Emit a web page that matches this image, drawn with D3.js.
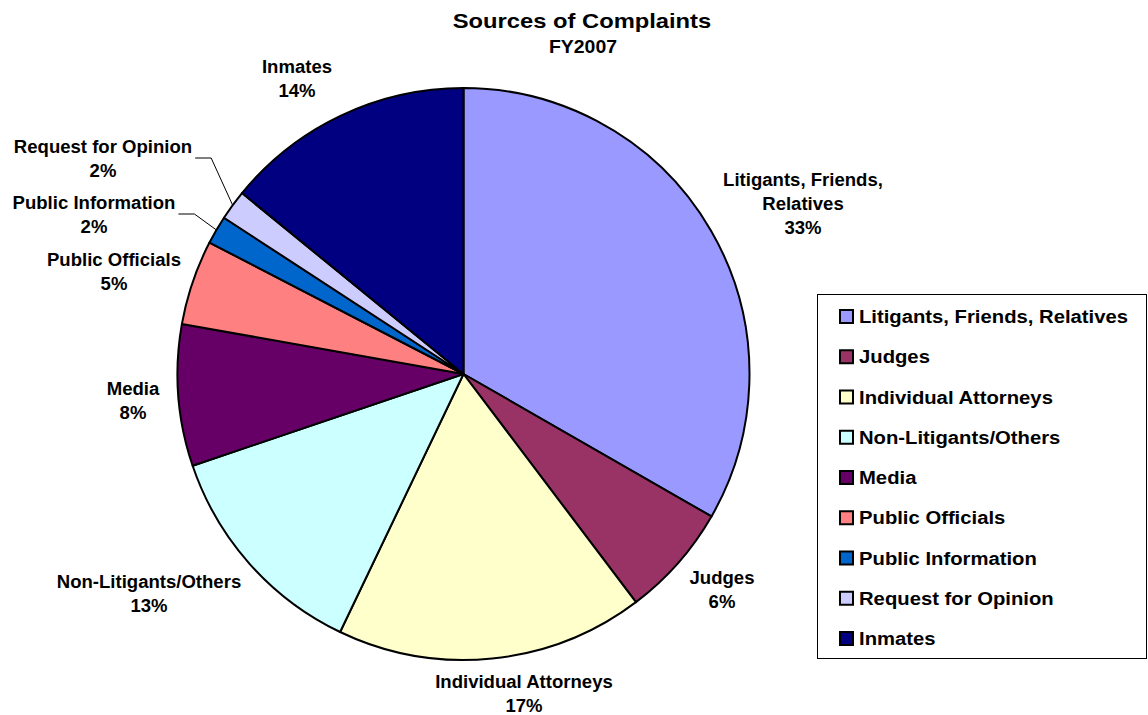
<!DOCTYPE html>
<html>
<head>
<meta charset="utf-8">
<script src="https://cdn.jsdelivr.net/npm/d3@7"></script>
<style>
  html, body { margin: 0; padding: 0; background: #fff; }
  svg { display: block; font-family: "Liberation Sans", Arial, sans-serif; font-weight: bold; }
</style>
</head>
<body>
<svg id="chart" width="1148" height="715"></svg>
<script>
// Complaint sources, FY2007 (share of all complaints, %)
const categories = [
  "Litigants, Friends, Relatives",
  "Judges",
  "Individual Attorneys",
  "Non-Litigants/Others",
  "Media",
  "Public Officials",
  "Public Information",
  "Request for Opinion",
  "Inmates"
];
const shares = [33.3, 6.4, 17.4, 12.7, 8.0, 4.8, 1.6, 1.7, 14.1];
const colors = ["#9999FF", "#993366", "#FFFFCC", "#CCFFFF", "#660066", "#FF8080", "#0066CC", "#CCCCFF", "#000080"];

// Label text lines for each slice (name split as drawn)
const labelLines = [
  ["Litigants, Friends,", "Relatives"],
  ["Judges"],
  ["Individual Attorneys"],
  ["Non-Litigants/Others"],
  ["Media"],
  ["Public Officials"],
  ["Public Information"],
  ["Request for Opinion"],
  ["Inmates"]
];

// Layout: centre of the first label line for each slice
const labelAnchor = [
  [803, 186], [722, 584], [524, 688], [149, 588], [133, 395],
  [114, 266], [94, 209], [103, 153], [297, 73]
];
// slices whose label is tied to the arc with a leader line
const leaderFor = new Set([6, 7]);

const svg = d3.select("#chart");
const cx = 463.5, cy = 374, radius = 286;
const lineH = 24;

// widen a text element horizontally by factor k (wide bold face)
function widen(sel, k) {
  sel.each(function () {
    const w = this.getComputedTextLength();
    d3.select(this).attr("textLength", w * k).attr("lengthAdjust", "spacingAndGlyphs");
    this.__w = w * k;
  });
  return sel;
}

const data = categories.map((c, i) => ({ name: c, value: shares[i], color: colors[i], i }));
const total = d3.sum(shares);
const pct = d3.format(".0%");

const pie = d3.pie().value(d => d.value).sort(null);
const arcs = pie(data);
const arc = d3.arc().innerRadius(0).outerRadius(radius);

const g = svg.append("g").attr("transform", `translate(${cx},${cy})`);
g.selectAll("path.slice")
  .data(arcs)
  .join("path")
  .attr("class", "slice")
  .attr("d", arc)
  .attr("fill", d => d.data.color)
  .attr("stroke", "#000")
  .attr("stroke-width", 2)
  .attr("stroke-linejoin", "round");

// Title
widen(svg.append("text").attr("x", 582).attr("y", 28).attr("text-anchor", "middle")
  .attr("font-size", 21).text("Sources of Complaints"), 1.13);
widen(svg.append("text").attr("x", 583).attr("y", 53).attr("text-anchor", "middle")
  .attr("font-size", 18).text("FY2007"), 1.08);

// Slice labels
const labels = svg.append("g").attr("font-size", 17.5).attr("fill", "#000");
arcs.forEach((a, i) => {
  const [lx, ly] = labelAnchor[i];
  const lines = labelLines[i].concat([pct(a.data.value / total)]);
  let firstW = 0;
  lines.forEach((s, k) => {
    const t = labels.append("text").attr("text-anchor", "middle")
      .attr("x", lx).attr("y", ly + k * lineH).text(s);
    widen(t, 1.06);
    if (k === 0) firstW = t.node().__w;
  });
  if (leaderFor.has(i)) {
    const x0 = lx + firstW / 2 + 3, y0 = ly + 5;
    const mid = (a.startAngle + a.endAngle) / 2;
    const ex = cx + radius * Math.sin(mid), ey = cy - radius * Math.cos(mid);
    labels.append("path")
      .attr("d", `M${x0},${y0}H${x0 + 16}L${ex},${ey}`)
      .attr("fill", "none").attr("stroke", "#000").attr("stroke-width", 1);
  }
});

// Legend
const legend = svg.append("g");
legend.append("rect").attr("x", 817.5).attr("y", 294.5).attr("width", 329).attr("height", 364)
  .attr("fill", "#fff").attr("stroke", "#000").attr("stroke-width", 1);
const rowY = d3.scalePoint().domain(categories).range([316, 638]);
const items = legend.selectAll("g.item").data(data).join("g").attr("class", "item")
  .attr("transform", d => `translate(0,${rowY(d.name)})`);
items.append("rect").attr("x", 840).attr("y", -6).attr("width", 13).attr("height", 13)
  .attr("fill", d => d.color).attr("stroke", "#000").attr("stroke-width", 2);
widen(items.append("text").attr("x", 859).attr("y", 7).attr("font-size", 18).text(d => d.name), 1.125);
</script>
</body>
</html>
